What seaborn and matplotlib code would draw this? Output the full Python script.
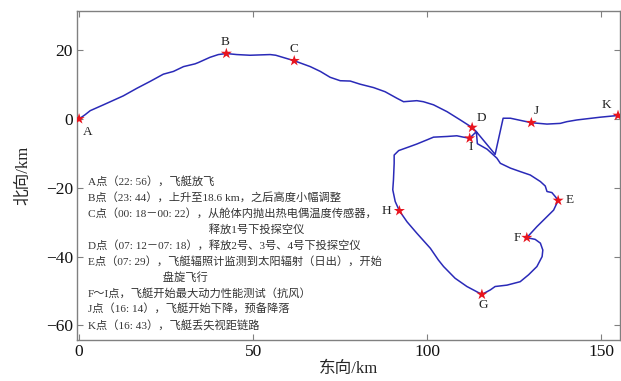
import matplotlib
matplotlib.use("Agg")
import matplotlib.pyplot as plt
import seaborn as sns
import pandas as pd

# flight track (east, north) in km
track_east = [0.0, 1.7, 3.2, 7.0, 12.7, 16.6, 20.4, 24.2, 27.1, 30.0, 33.3, 34.3, 37.6, 40.0,
              42.3, 45.3, 49.1, 54.9, 56.5, 61.8, 66.4, 69.3, 72.1, 75.0, 77.9, 80.7, 84.6,
              87.9, 91.3, 93.2, 97.0, 98.9, 101.8, 105.7, 109.5, 112.9, 114.1, 114.4, 117.2,
              120.0, 121.0, 123.9, 126.7, 129.6, 132.5, 133.9, 134.4, 135.8, 136.8, 137.6,
              136.3, 133.4, 131.5, 128.6, 131.0, 132.5, 133.2, 133.0, 131.5, 129.1, 126.7,
              122.9, 119.5, 118.1, 115.7, 111.4, 108.0, 104.7, 103.2, 100.9, 97.0, 94.2,
              92.0, 90.8, 90.1, 90.3, 90.5, 90.5, 91.8, 95.1, 97.0, 99.9, 101.8, 105.7,
              108.5, 110.4, 112.2, 114.1, 119.5, 121.8, 123.9, 129.9, 134.4, 138.2, 140.1,
              143.0, 149.7, 154.8, 156.0]
track_north = [0.0, 1.2, 2.4, 4.1, 6.7, 8.9, 10.9, 13.0, 13.8, 15.2, 16.0, 16.4, 17.9, 18.7,
               19.0, 18.7, 18.5, 18.7, 18.5, 16.9, 15.2, 13.8, 12.1, 11.1, 11.0, 10.1, 9.1,
               7.9, 6.0, 5.0, 5.3, 5.0, 4.1, 2.1, -0.3, -2.5, -3.7, -7.2, -8.8,
               -11.4, -12.9, -14.3, -15.3, -16.3, -18.2, -19.5, -21.1, -21.4, -22.6, -23.7,
               -26.5, -29.4, -31.3, -34.5, -35.0, -36.1, -38.1, -40.0, -42.9, -45.3, -47.3,
               -48.3, -48.7, -49.7, -51.0, -48.7, -46.3, -42.9, -41.0, -37.6, -33.2, -29.9,
               -26.7, -24.0, -20.6, -17.7, -12.9, -10.5, -9.2, -8.0, -7.3, -6.1, -5.3, -5.1,
               -4.9, -5.3, -5.6, -3.7, -10.3, 0.2, 0.2, -1.1, -1.5, -1.3, -0.8,
               -0.3, 0.5, 1.0, 1.1]

# event points
point_names = ["A", "B", "C", "D", "E", "F", "G", "H", "I", "J", "K"]
point_east = [0.0, 42.3, 61.8, 112.9, 137.6, 128.6, 115.7, 92.0, 112.2, 129.9, 154.8]
point_north = [0.0, 19.0, 16.9, -2.5, -23.7, -34.5, -51.0, -26.7, -5.6, -1.1, 1.0]
label_east = [2.4, 42.0, 61.6, 115.6, 140.8, 125.8, 116.2, 88.4, 112.4, 131.3, 151.4]
label_north = [-3.7, 22.3, 20.2, 0.4, -23.7, -34.7, -54.2, -26.9, -8.2, 2.4, 4.1]

notes = [
    "A点（22: 56），飞艇放飞",
    "B点（23: 44），上升至18.6 km，之后高度小幅调整",
    "C点（00: 18－00: 22），从舱体内抛出热电偶温度传感器，",
    "                                          释放1号下投探空仪",
    "D点（07: 12－07: 18），释放2号、3号、4号下投探空仪",
    "E点（07: 29），飞艇辐照计监测到太阳辐射（日出），开始",
    "                          盘旋飞行",
    "F～I点，飞艇开始最大动力性能测试（抗风）",
    "J点（16: 14），飞艇开始下降，预备降落",
    "K点（16: 43），飞艇丢失视距链路",
]

sns.set_style("ticks")
fonts = ["Liberation Serif", "Noto Sans CJK SC", "DejaVu Sans"]
plt.rcParams["font.family"] = fonts

track = pd.DataFrame({"east": track_east, "north": track_north})
points = pd.DataFrame({"east": point_east, "north": point_north})

fig = plt.figure(figsize=(6.21, 3.81), dpi=100)
ax = fig.add_axes([0.124, 0.108, 0.874, 0.8635])

sns.lineplot(data=track, x="east", y="north", sort=False, estimator=None,
             color="#2a2ab8", linewidth=1.1, ax=ax)
sns.scatterplot(data=points, x="east", y="north", marker="*", s=70,
                color="#e8141e", edgecolor="none", zorder=3, ax=ax)

for name, lx, ly in zip(point_names, label_east, label_north):
    ax.text(lx, ly, name, fontsize=9.5, ha="center", va="center", color="#222222")

for i, line in enumerate(notes):
    ax.text(88 / 621, 1 - (181.5 + i * 16.0) / 381, line, transform=fig.transFigure,
            fontsize=8.1, ha="left", va="center", color="#333333")

ax.set_xlim(-0.6, 155.3)
ax.set_ylim(-64.2, 31.4)
ax.set_xticks([0, 50, 100, 150])
ax.set_yticks([20, 0, -20, -40, -60])
ax.tick_params(direction="in", top=True, right=True, length=4, width=0.8,
               color="#808080", labelsize=12.5, labelcolor="#111111", pad=3)
for sp in ax.spines.values():
    sp.set_color("#808080")
    sp.set_linewidth(1.0)

ax.set_xlabel("东向/km", fontsize=12, labelpad=1)
ax.set_ylabel("北向/km", fontsize=12, labelpad=10)

fig.savefig("out.png", dpi=100)
